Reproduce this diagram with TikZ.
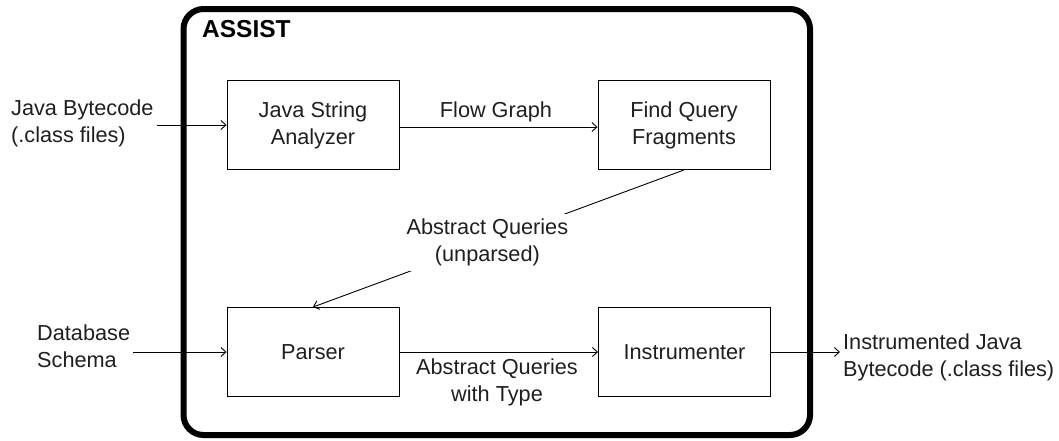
\documentclass[tikz,border=0pt]{standalone}
\usepackage{fontspec}
\setmainfont{Liberation Sans}
\usetikzlibrary{arrows.meta}
\begin{document}
\begin{tikzpicture}[x=1pt,y=-1pt,
  every node/.style={font=\fontsize{21.7}{27}\selectfont, text=black!88},
  stage/.style={draw, line width=0.9pt, minimum width=172pt, minimum height=89pt, align=center, inner sep=0pt},
  frame/.style={draw, line width=6pt, rounded corners=20pt, minimum width=626.5pt, minimum height=426pt, inner sep=0pt},
  lbl/.style={align=center, inner sep=2pt},
  side/.style={align=left, inner sep=3pt},
  flow/.style={line width=0.9pt, -{Straight Barb[length=5pt,width=9pt]}}
]
\useasboundingbox (0,0) rectangle (1059,440);
\node[frame] (assist) at (496.75,222) {};
\node[anchor=base west, inner sep=0pt, font=\fontsize{24.5}{28}\selectfont\bfseries, text=black] (title) at (202,37) {ASSIST};

\node[stage] (jsa) at (313,125) {Java String\\Analyzer};
\node[stage] (fqf) at (684,125) {Find Query\\Fragments};
\node[stage] (parser) at (313,352) {Parser};
\node[stage] (instr) at (684.5,352) {Instrumenter};

\node[side, anchor=west] (jb) at (8,123.5) {Java Bytecode\\(.class files)};
\node[side, anchor=west] (ds) at (34,346) {Database\\Schema};
\node[side, anchor=west] (out) at (840,357) {Instrumented Java\\Bytecode (.class files)};

\node[lbl] (fg) at (496,112) {Flow Graph};
\node[lbl] (aqt) at (497,382) {Abstract Queries\\with Type};

\draw[flow] (jb.east |- jsa.west) -- (jsa.west);
\draw[flow] ([yshift=-2pt]jsa.east) -- ([yshift=-2pt]fqf.west);
\draw[flow] (fqf.south) -- node[lbl, fill=white, inner sep=5pt, pos=0.53] (aq) {Abstract Queries\\(unparsed)} (parser.north);
\draw[flow] (ds.east |- parser.west) -- (parser.west);
\draw[flow] (parser.east) -- (instr.west);
\draw[flow] (instr.east) -- (instr.east -| out.west);
\end{tikzpicture}
\end{document}
